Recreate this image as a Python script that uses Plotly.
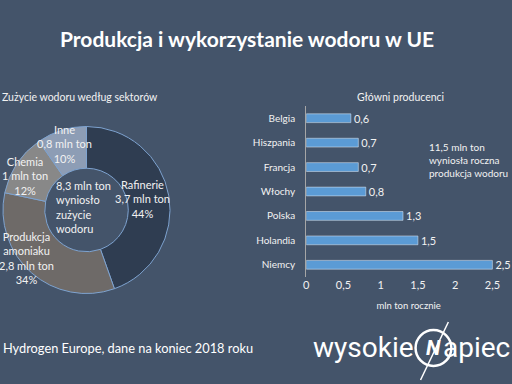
import plotly.graph_objects as go

# ---- data ----
sectors = ["Rafinerie", "Produkcja<br>amoniaku", "Chemia", "Inne"]
sector_values = [3.7, 2.8, 1.0, 0.8]
sector_pct = ["44%", "34%", "12%", "10%"]
sector_mln = ["3,7 mln ton", "2,8 mln ton", "1 mln ton", "0,8 mln ton"]

countries = ["Niemcy", "Holandia", "Polska", "Włochy", "Francja", "Hiszpania", "Belgia"]
country_values = [2.5, 1.5, 1.3, 0.8, 0.7, 0.7, 0.6]

x_ticks = [0, 0.5, 1, 1.5, 2, 2.5]

# ---- style ----
BG = "#44546a"
FONT = "Lato"
TXT = "#f2f2f2"
W, H = 512, 384

def px(x):
    return x / W

def py(y):
    return 1 - y / H

def ann(x, y, text, size, xanchor="center", color=TXT, family=FONT, align="center"):
    return dict(x=px(x), y=py(y), xref="paper", yref="paper", xanchor=xanchor,
                yanchor="middle", align=align, text=text, showarrow=False,
                font=dict(size=size, color=color, family=family))

fig = go.Figure()

fig.add_trace(go.Pie(
    labels=sectors,
    values=sector_values,
    hole=0.5,
    sort=False,
    direction="clockwise",
    rotation=0,
    marker=dict(colors=["#2f3d51", "#6e6a68", "#888888", "#8d9db5"],
                line=dict(color="#7ea3d0", width=1)),
    textinfo="none",
    textposition="none",
    hoverinfo="none",
    showlegend=False,
    domain=dict(x=[0, px(168)], y=[py(295), py(125)]),
))

fig.add_trace(go.Bar(
    y=countries,
    x=country_values,
    orientation="h",
    marker=dict(color="#5b9bd5"),
    width=0.36,
    text=country_values,
    texttemplate="%{x:.1f}",
    textposition="outside",
    constraintext="none",
    textfont=dict(color=TXT, size=11, family=FONT),
    cliponaxis=False,
    showlegend=False,
    xaxis="x", yaxis="y",
))

annotations = [
    ann(245, 38, "<b>Produkcja i wykorzystanie wodoru w UE</b>", 21, color="white"),
    ann(-3, 97, "Zużycie wodoru według sektorów", 10.5, xanchor="left"),
    ann(400, 97, "Główni producenci", 10.5),
    ann(426, 160, "11,5 mln ton<br>wyniosła roczna<br>produkcja wodoru", 10,
        xanchor="left", align="left"),
    ann(51, 207, "8,3 mln ton<br>wyniosło<br>zużycie<br>wodoru", 11,
        xanchor="left", align="left"),
    ann(-2, 348, "Hydrogen Europe, dane na koniec 2018 roku", 12.8,
        xanchor="left", color="white"),
    ann(415, 347, "wysokie", 28, xanchor="right", color="white", family="Roboto"),
    ann(433, 348, "<b><i>N</i></b>", 21, color="white", family="Roboto"),
    ann(512, 347, "apiec", 28, xanchor="right", color="white", family="Roboto"),
]

label_pos = [(140, 199), (24, 258), (22, 176), (62, 144)]
for name, mln, pct, (lx, ly) in zip(sectors, sector_mln, sector_pct, label_pos):
    annotations.append(ann(lx, ly, f"{name}<br>{mln}<br>{pct}", 11))

shapes = [
    dict(type="circle", xref="paper", yref="paper",
         x0=px(415), x1=px(451), y0=py(366), y1=py(330),
         line=dict(color="white", width=2.5)),
    dict(type="line", xref="paper", yref="paper",
         x0=px(420), y0=py(380), x1=px(448), y1=py(322),
         line=dict(color="white", width=1.5)),
]

fig.update_layout(
    width=W, height=H,
    margin=dict(l=0, r=0, t=0, b=0),
    paper_bgcolor=BG, plot_bgcolor=BG,
    separators=", ",
    font=dict(family=FONT, color=TXT),
    annotations=annotations,
    shapes=shapes,
    xaxis=dict(domain=[px(305), px(511)], range=[0, 2.75],
               tickvals=x_ticks, tickformat=".1~f",
               showgrid=False, zeroline=False, showline=False,
               tickfont=dict(size=11, color=TXT, family=FONT),
               ticks="", ticklen=0,
               title=dict(text="mln ton rocznie", font=dict(size=9.5, color=TXT, family=FONT),
                          standoff=12),
               fixedrange=True),
    yaxis=dict(domain=[py(277), py(106)],
               categoryorder="array", categoryarray=countries,
               showgrid=False, zeroline=False,
               showline=True, linecolor="#a6a6a6", linewidth=1,
               ticks="", ticklabelstandoff=8,
               tickfont=dict(size=10, color=TXT, family=FONT),
               fixedrange=True),
)

fig.write_html("out.html")
